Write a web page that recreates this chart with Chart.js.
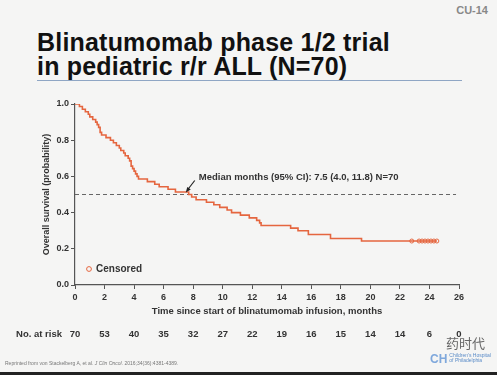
<!DOCTYPE html>
<html>
<head>
<meta charset="utf-8">
<script src="https://cdn.jsdelivr.net/npm/chart.js@4/dist/chart.umd.min.js"></script>
<style>
  html, body { margin: 0; padding: 0; }
  body { width: 497px; height: 375px; overflow: hidden; background: #f5f5f4; position: relative; font-family: "Liberation Sans", Arial, sans-serif; }
  #chart { position: absolute; left: 0; top: 0; }
  .title { position: absolute; left: 37px; top: 30px; font-size: 25px; font-weight: bold; line-height: 24px; color: #111; letter-spacing: 0.2px; }
  .rule { position: absolute; left: 37px; top: 80px; width: 425px; height: 1px; background: #8fa6c4; }
  .code { position: absolute; right: 9px; top: 4px; font-size: 11px; font-weight: bold; color: #888; }
  .ref { position: absolute; left: 5px; top: 360px; font-size: 5px; color: #777; }
  .bar { position: absolute; left: 0; top: 372px; width: 497px; height: 3px; background: #222; }
  .wm { position: absolute; left: 446px; top: 333px; font-size: 13px; color: #666; font-family: "Noto Sans CJK SC", sans-serif; }
  .logo { position: absolute; left: 430px; top: 353px; font-size: 5px; color: #5b8cc8; line-height: 5px; }
  .logo b { font-size: 12px; color: #7fa8dc; float: left; margin-right: 2px; line-height: 12px; }
</style>
</head>
<body>
<div class="code">CU-14</div>
<div class="title">Blinatumomab phase 1/2 trial<br>in pediatric r/r ALL (N=70)</div>
<div class="rule"></div>
<canvas id="chart" width="497" height="375"></canvas>
<div class="ref">Reprinted from von Stackelberg A, et al. <i>J Clin Oncol.</i> 2016;34(36):4381-4389.</div>
<div class="wm">药时代</div>
<div class="logo"><b>CH</b>Children's Hospital<br>of Philadelphia</div>
<div class="bar"></div>
<script>
// Kaplan-Meier steps: month, survival after the drop
const kmTimes = [0, 0.3, 0.5, 0.7, 0.9, 1.0, 1.2, 1.4, 1.5, 1.6, 1.7, 1.8, 2.1, 2.4, 2.6, 2.8, 3.0, 3.1, 3.3, 3.4,
  3.6, 3.7, 3.8, 3.9, 4.0, 4.1, 4.2, 4.3, 4.9, 5.4, 5.7, 6.3, 6.8, 7.7, 7.9, 8.2, 8.9, 9.4, 9.8, 10.3,
  10.6, 11.2, 11.8, 12.3, 12.5, 12.6, 14.6, 15.1, 15.8, 17.3, 19.4, 24.5];
const kmSurv = [1.0, 0.986, 0.971, 0.957, 0.943, 0.929, 0.914, 0.900, 0.886, 0.871, 0.843, 0.829, 0.814, 0.800, 0.786, 0.771, 0.757, 0.743, 0.729, 0.714,
  0.700, 0.686, 0.657, 0.643, 0.629, 0.614, 0.600, 0.586, 0.571, 0.557, 0.543, 0.529, 0.514, 0.500, 0.486, 0.471, 0.457, 0.443, 0.429, 0.414,
  0.400, 0.386, 0.371, 0.357, 0.343, 0.329, 0.314, 0.300, 0.279, 0.257, 0.243, 0.243];

const censorTimes = [22.8, 23.3, 23.5, 23.7, 23.9, 24.1, 24.3, 24.5];
const censorSurv = [0.243, 0.243, 0.243, 0.243, 0.243, 0.243, 0.243, 0.243];

const riskTimes = [0, 2, 4, 6, 8, 10, 12, 14, 16, 18, 20, 22, 24, 26];
const riskCounts = [70, 53, 40, 35, 32, 27, 22, 19, 16, 15, 14, 14, 6, 0];

const medianLine = [0, 25.8];
const medianValue = 0.5;
const medianMonths = 7.5;

const CURVE = "#e5663f";
const AXIS = "#555";
const FONT = "'Liberation Sans', Arial, sans-serif";

let extras = {
    id: "extras",
    afterDraw: (chart) => {
        const ctx = chart.ctx;
        const x = chart.scales.x;
        const y = chart.scales.y;
        const area = chart.chartArea;
        ctx.save();

        // median annotation with arrow
        const mx = x.getPixelForValue(medianMonths);
        const my = y.getPixelForValue(medianValue);
        ctx.strokeStyle = "#222";
        ctx.fillStyle = "#222";
        ctx.lineWidth = 1.2;
        ctx.beginPath();
        ctx.moveTo(mx + 9, my - 14);
        ctx.lineTo(mx + 2, my - 5);
        ctx.stroke();
        ctx.beginPath();
        ctx.moveTo(mx, my - 2);
        ctx.lineTo(mx + 5, my - 5);
        ctx.lineTo(mx + 1.5, my - 7.5);
        ctx.closePath();
        ctx.fill();
        ctx.font = "bold 9.5px " + FONT;
        ctx.fillStyle = "#333";
        ctx.textBaseline = "middle";
        ctx.fillText("Median months (95% CI): 7.5 (4.0, 11.8) N=70", mx + 13, my - 17);

        // censored legend
        ctx.strokeStyle = CURVE;
        ctx.lineWidth = 1;
        ctx.beginPath();
        ctx.arc(area.left + 14, area.bottom - 16, 2.4, 0, Math.PI * 2);
        ctx.stroke();
        ctx.fillStyle = "#333";
        ctx.font = "bold 10px " + FONT;
        ctx.fillText("Censored", area.left + 21, area.bottom - 16);

        // number at risk row
        ctx.font = "bold 9.5px " + FONT;
        ctx.textAlign = "right";
        ctx.fillText("No. at risk", 62, 334);
        ctx.textAlign = "center";
        riskTimes.forEach((t, i) => {
            ctx.fillText(String(riskCounts[i]), x.getPixelForValue(t), 334);
        });
        ctx.restore();
    },
};

let kmChart = new Chart(document.getElementById("chart"), {
    type: "line",
    data: {
        datasets: [
            {
                label: "Survival",
                data: kmTimes.map((t, i) => ({ x: t, y: kmSurv[i] })),
                stepped: "before",
                borderColor: CURVE,
                borderWidth: 1.6,
                pointRadius: 0,
                fill: false,
            },
            {
                label: "Median",
                data: medianLine.map((t) => ({ x: t, y: medianValue })),
                borderColor: "#666",
                borderWidth: 1,
                borderDash: [4, 3],
                pointRadius: 0,
            },
            {
                label: "Censored",
                type: "scatter",
                data: censorTimes.map((t, i) => ({ x: t, y: censorSurv[i] })),
                pointStyle: "circle",
                pointRadius: 2,
                borderWidth: 1,
                borderColor: CURVE,
                backgroundColor: "rgba(0,0,0,0)",
            },
        ],
    },
    options: {
        responsive: false,
        animation: { duration: 0 },
        layout: { padding: { left: 39, top: 104, right: 38, bottom: 56 } },
        plugins: { legend: { display: false }, tooltip: { enabled: false } },
        scales: {
            x: {
                type: "linear",
                min: 0,
                max: 26,
                afterFit: (scale) => { scale.height = 34; },
                ticks: { stepSize: 2, color: "#333", padding: 3, font: { size: 9, weight: "bold", family: FONT } },
                grid: { drawOnChartArea: false, tickLength: 4, color: AXIS },
                border: { color: AXIS, width: 1.2 },
                title: { display: true, text: "Time since start of blinatumomab infusion, months", color: "#333", padding: 2,
                    font: { size: 9.5, weight: "bold", family: FONT } },
            },
            y: {
                min: 0,
                max: 1,
                afterFit: (scale) => { scale.width = 36; },
                ticks: { stepSize: 0.2, color: "#333", padding: 2, callback: (v) => v.toFixed(1),
                    font: { size: 9, weight: "bold", family: FONT } },
                grid: { drawOnChartArea: false, tickLength: 4, color: AXIS },
                border: { color: AXIS, width: 1.2 },
                title: { display: true, text: "Overall survival (probability)", color: "#333", padding: 2,
                    font: { size: 9, weight: "bold", family: FONT } },
            },
        },
    },
    plugins: [extras],
});
</script>
</body>
</html>
